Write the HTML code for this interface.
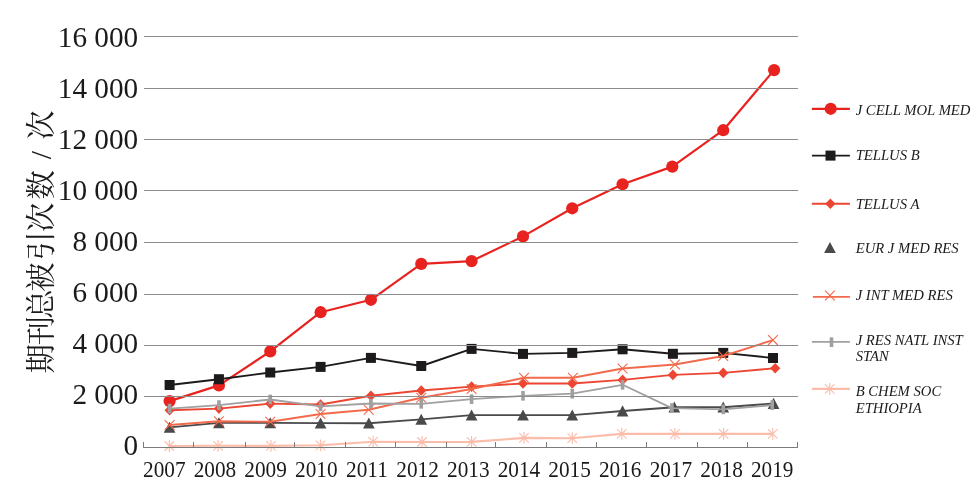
<!DOCTYPE html>
<html lang="zh"><head><meta charset="utf-8"><title>chart</title><style>html,body{margin:0;padding:0;background:#fff}svg{display:block;will-change:transform}</style></head><body>
<svg width="979" height="495" viewBox="0 0 979 495">
<rect width="979" height="495" fill="#fff"/>
<g font-family="'Liberation Serif', serif" font-size="30" fill="#1a1a1a" text-anchor="end">
<text transform="translate(138.2 454.68) scale(0.975 1)" xml:space="preserve">0</text>
<text transform="translate(138.2 403.72) scale(0.975 1)" xml:space="preserve">2 000</text>
<text transform="translate(138.2 352.76) scale(0.975 1)" xml:space="preserve">4 000</text>
<text transform="translate(138.2 301.8) scale(0.975 1)" xml:space="preserve">6 000</text>
<text transform="translate(138.2 250.84) scale(0.975 1)" xml:space="preserve">8 000</text>
<text transform="translate(138.2 199.88) scale(0.975 1)" xml:space="preserve">10 000</text>
<text transform="translate(138.2 148.92) scale(0.975 1)" xml:space="preserve">12 000</text>
<text transform="translate(138.2 97.96) scale(0.975 1)" xml:space="preserve">14 000</text>
<text transform="translate(138.2 47) scale(0.975 1)" xml:space="preserve">16 000</text>
</g>
<g font-family="'Liberation Serif', serif" font-size="23" fill="#1a1a1a" text-anchor="middle">
<text transform="translate(164.3 477.2) scale(0.925 1)">2007</text>
<text transform="translate(214.96 477.2) scale(0.925 1)">2008</text>
<text transform="translate(265.62 477.2) scale(0.925 1)">2009</text>
<text transform="translate(316.28 477.2) scale(0.925 1)">2010</text>
<text transform="translate(366.94 477.2) scale(0.925 1)">2011</text>
<text transform="translate(417.6 477.2) scale(0.925 1)">2012</text>
<text transform="translate(468.26 477.2) scale(0.925 1)">2013</text>
<text transform="translate(518.92 477.2) scale(0.925 1)">2014</text>
<text transform="translate(569.58 477.2) scale(0.925 1)">2015</text>
<text transform="translate(620.24 477.2) scale(0.925 1)">2016</text>
<text transform="translate(670.9 477.2) scale(0.925 1)">2017</text>
<text transform="translate(721.56 477.2) scale(0.925 1)">2018</text>
<text transform="translate(772.22 477.2) scale(0.925 1)">2019</text>
</g>
<g fill="#1a1a1a">
<text transform="translate(40.3 0) rotate(-90)" font-family="'Liberation Serif', 'Noto Serif CJK SC', serif" font-size="29.3" text-anchor="middle" x="-358.8 -330.7 -304.2 -277 -245.9 -217.4 -184.8 -155.2 -125" y="11">期刊总被引次数/次</text>
</g>
<polyline points="169.6,401.1 218.93,385.4 270.26,351.4 320.59,312.2 370.92,299.8 421.25,263.9 471.58,261.1 523.01,236.4 572.24,208.3 622.57,184.3 672.3,166.6 723.23,130.2 774.1,70.1" fill="none" stroke="#e8231f" stroke-width="2.2" stroke-linejoin="round"/>
<circle cx="169.6" cy="401.1" r="6.1" fill="#e8231f"/>
<circle cx="218.93" cy="385.4" r="6.1" fill="#e8231f"/>
<circle cx="270.26" cy="351.4" r="6.1" fill="#e8231f"/>
<circle cx="320.59" cy="312.2" r="6.1" fill="#e8231f"/>
<circle cx="370.92" cy="299.8" r="6.1" fill="#e8231f"/>
<circle cx="421.25" cy="263.9" r="6.1" fill="#e8231f"/>
<circle cx="471.58" cy="261.1" r="6.1" fill="#e8231f"/>
<circle cx="523.01" cy="236.4" r="6.1" fill="#e8231f"/>
<circle cx="572.24" cy="208.3" r="6.1" fill="#e8231f"/>
<circle cx="622.57" cy="184.3" r="6.1" fill="#e8231f"/>
<circle cx="672.3" cy="166.6" r="6.1" fill="#e8231f"/>
<circle cx="723.23" cy="130.2" r="6.1" fill="#e8231f"/>
<circle cx="774.1" cy="70.1" r="6.1" fill="#e8231f"/>
<polyline points="169.6,385 218.93,379.2 270.26,372.5 320.59,366.9 370.92,357.9 421.25,366 471.58,348.9 523.01,353.9 572.24,352.9 622.57,349.3 672.9,353.8 723.23,352.9 773,358" fill="none" stroke="#1c1a1b" stroke-width="1.9" stroke-linejoin="round"/>
<rect x="164.6" y="380" width="10.0" height="10.0" fill="#1c1a1b"/>
<rect x="213.93" y="374.2" width="10.0" height="10.0" fill="#1c1a1b"/>
<rect x="265.26" y="367.5" width="10.0" height="10.0" fill="#1c1a1b"/>
<rect x="315.59" y="361.9" width="10.0" height="10.0" fill="#1c1a1b"/>
<rect x="365.92" y="352.9" width="10.0" height="10.0" fill="#1c1a1b"/>
<rect x="416.25" y="361" width="10.0" height="10.0" fill="#1c1a1b"/>
<rect x="466.58" y="343.9" width="10.0" height="10.0" fill="#1c1a1b"/>
<rect x="518.01" y="348.9" width="10.0" height="10.0" fill="#1c1a1b"/>
<rect x="567.24" y="347.9" width="10.0" height="10.0" fill="#1c1a1b"/>
<rect x="617.57" y="344.3" width="10.0" height="10.0" fill="#1c1a1b"/>
<rect x="667.9" y="348.8" width="10.0" height="10.0" fill="#1c1a1b"/>
<rect x="718.23" y="347.9" width="10.0" height="10.0" fill="#1c1a1b"/>
<rect x="768" y="353" width="10.0" height="10.0" fill="#1c1a1b"/>
<polyline points="169.6,410.3 218.93,408.6 270.26,403.6 320.59,404.5 370.92,395.8 421.25,390.5 471.58,386.6 523.01,383.5 572.24,383.5 622.57,379.9 672.9,374.9 723.23,372.9 775.2,368.2" fill="none" stroke="#ec4632" stroke-width="1.9" stroke-linejoin="round"/>
<path d="M164.5 410.3L169.6 405L174.7 410.3L169.6 415.6Z" fill="#ec4632"/>
<path d="M213.83 408.6L218.93 403.3L224.03 408.6L218.93 413.9Z" fill="#ec4632"/>
<path d="M265.16 403.6L270.26 398.3L275.36 403.6L270.26 408.9Z" fill="#ec4632"/>
<path d="M315.49 404.5L320.59 399.2L325.69 404.5L320.59 409.8Z" fill="#ec4632"/>
<path d="M365.82 395.8L370.92 390.5L376.02 395.8L370.92 401.1Z" fill="#ec4632"/>
<path d="M416.15 390.5L421.25 385.2L426.35 390.5L421.25 395.8Z" fill="#ec4632"/>
<path d="M466.48 386.6L471.58 381.3L476.68 386.6L471.58 391.9Z" fill="#ec4632"/>
<path d="M517.91 383.5L523.01 378.2L528.11 383.5L523.01 388.8Z" fill="#ec4632"/>
<path d="M567.14 383.5L572.24 378.2L577.34 383.5L572.24 388.8Z" fill="#ec4632"/>
<path d="M617.47 379.9L622.57 374.6L627.67 379.9L622.57 385.2Z" fill="#ec4632"/>
<path d="M667.8 374.9L672.9 369.6L678 374.9L672.9 380.2Z" fill="#ec4632"/>
<path d="M718.13 372.9L723.23 367.6L728.33 372.9L723.23 378.2Z" fill="#ec4632"/>
<path d="M770.1 368.2L775.2 362.9L780.3 368.2L775.2 373.5Z" fill="#ec4632"/>
<polyline points="169.6,427.4 218.93,422.9 270.26,422.9 320.59,423.1 368.85,423.2 421.25,419.4 471.58,415.1 523.01,415.1 572.24,415.1 622.57,411 674.3,407.2 723.23,407.2 773.56,403.5" fill="none" stroke="#4a4a4c" stroke-width="1.9" stroke-linejoin="round"/>
<path d="M163.75 432.8L169.6 421.7L175.45 432.8Z" fill="#4a4a4c"/>
<path d="M213.08 428.3L218.93 417.2L224.78 428.3Z" fill="#4a4a4c"/>
<path d="M264.41 428.3L270.26 417.2L276.11 428.3Z" fill="#4a4a4c"/>
<path d="M314.74 428.5L320.59 417.4L326.44 428.5Z" fill="#4a4a4c"/>
<path d="M363 428.6L368.85 417.5L374.7 428.6Z" fill="#4a4a4c"/>
<path d="M415.4 424.8L421.25 413.7L427.1 424.8Z" fill="#4a4a4c"/>
<path d="M465.73 420.5L471.58 409.4L477.43 420.5Z" fill="#4a4a4c"/>
<path d="M517.16 420.5L523.01 409.4L528.86 420.5Z" fill="#4a4a4c"/>
<path d="M566.39 420.5L572.24 409.4L578.09 420.5Z" fill="#4a4a4c"/>
<path d="M616.72 416.4L622.57 405.3L628.42 416.4Z" fill="#4a4a4c"/>
<path d="M668.45 412.6L674.3 401.5L680.15 412.6Z" fill="#4a4a4c"/>
<path d="M717.38 412.6L723.23 401.5L729.08 412.6Z" fill="#4a4a4c"/>
<path d="M767.71 408.9L773.56 397.8L779.41 408.9Z" fill="#4a4a4c"/>
<polyline points="169.6,425 218.93,421.2 270.26,421.8 320.59,414 368.7,409.8 421.25,397.8 471.58,389 524,377.8 572.9,377.8 622.57,368.5 674.9,364.5 723.23,356 772.9,340.1" fill="none" stroke="#f2694b" stroke-width="1.9" stroke-linejoin="round"/>
<path d="M164.7 420.1L174.5 429.9M164.7 429.9L174.5 420.1" stroke="#f2694b" stroke-width="1.1" fill="none"/>
<path d="M214.03 416.3L223.83 426.1M214.03 426.1L223.83 416.3" stroke="#f2694b" stroke-width="1.1" fill="none"/>
<path d="M265.36 416.9L275.16 426.7M265.36 426.7L275.16 416.9" stroke="#f2694b" stroke-width="1.1" fill="none"/>
<path d="M315.69 409.1L325.49 418.9M315.69 418.9L325.49 409.1" stroke="#f2694b" stroke-width="1.1" fill="none"/>
<path d="M363.8 404.9L373.6 414.7M363.8 414.7L373.6 404.9" stroke="#f2694b" stroke-width="1.1" fill="none"/>
<path d="M416.35 392.9L426.15 402.7M416.35 402.7L426.15 392.9" stroke="#f2694b" stroke-width="1.1" fill="none"/>
<path d="M466.68 384.1L476.48 393.9M466.68 393.9L476.48 384.1" stroke="#f2694b" stroke-width="1.1" fill="none"/>
<path d="M519.1 372.9L528.9 382.7M519.1 382.7L528.9 372.9" stroke="#f2694b" stroke-width="1.1" fill="none"/>
<path d="M568 372.9L577.8 382.7M568 382.7L577.8 372.9" stroke="#f2694b" stroke-width="1.1" fill="none"/>
<path d="M617.67 363.6L627.47 373.4M617.67 373.4L627.47 363.6" stroke="#f2694b" stroke-width="1.1" fill="none"/>
<path d="M670 359.6L679.8 369.4M670 369.4L679.8 359.6" stroke="#f2694b" stroke-width="1.1" fill="none"/>
<path d="M718.33 351.1L728.13 360.9M718.33 360.9L728.13 351.1" stroke="#f2694b" stroke-width="1.1" fill="none"/>
<path d="M768 335.2L777.8 345M768 345L777.8 335.2" stroke="#f2694b" stroke-width="1.1" fill="none"/>
<polyline points="169.6,408.6 218.93,405.1 270.26,399.5 320.59,406.3 370.92,403.5 421.25,403.8 471.58,399.2 523.01,395.8 572.24,393.7 622.57,384.8 671.9,408.1 723.23,409.3 772.2,405.1" fill="none" stroke="#a0a0a1" stroke-width="1.8" stroke-linejoin="round"/>
<rect x="167.8" y="403.75" width="3.6" height="9.7" fill="#a0a0a1"/>
<rect x="217.13" y="400.25" width="3.6" height="9.7" fill="#a0a0a1"/>
<rect x="268.46" y="394.65" width="3.6" height="9.7" fill="#a0a0a1"/>
<rect x="318.79" y="401.45" width="3.6" height="9.7" fill="#a0a0a1"/>
<rect x="369.12" y="398.65" width="3.6" height="9.7" fill="#a0a0a1"/>
<rect x="419.45" y="398.95" width="3.6" height="9.7" fill="#a0a0a1"/>
<rect x="469.78" y="394.35" width="3.6" height="9.7" fill="#a0a0a1"/>
<rect x="521.21" y="390.95" width="3.6" height="9.7" fill="#a0a0a1"/>
<rect x="570.44" y="388.85" width="3.6" height="9.7" fill="#a0a0a1"/>
<rect x="620.77" y="379.95" width="3.6" height="9.7" fill="#a0a0a1"/>
<rect x="670.1" y="403.25" width="3.6" height="9.7" fill="#a0a0a1"/>
<rect x="721.43" y="404.45" width="3.6" height="9.7" fill="#a0a0a1"/>
<rect x="770.4" y="400.25" width="3.6" height="9.7" fill="#a0a0a1"/>
<polyline points="169.3,446 218.1,445.8 271,445.9 320.59,445.3 373.2,441.7 422,442 471.58,441.9 524,437.9 572.24,438.2 621.8,433.9 674.9,433.9 723.6,433.9 772.8,433.9" fill="none" stroke="#fcbcaa" stroke-width="2.1" stroke-linejoin="round"/>
<path d="M169.3 440.1L169.3 451.9M164.55 441.25L174.05 450.75M164.55 450.75L174.05 441.25" stroke="#fcbcaa" stroke-width="1.1" fill="none"/>
<path d="M218.1 439.9L218.1 451.7M213.35 441.05L222.85 450.55M213.35 450.55L222.85 441.05" stroke="#fcbcaa" stroke-width="1.1" fill="none"/>
<path d="M271 440L271 451.8M266.25 441.15L275.75 450.65M266.25 450.65L275.75 441.15" stroke="#fcbcaa" stroke-width="1.1" fill="none"/>
<path d="M320.59 439.4L320.59 451.2M315.84 440.55L325.34 450.05M315.84 450.05L325.34 440.55" stroke="#fcbcaa" stroke-width="1.1" fill="none"/>
<path d="M373.2 435.8L373.2 447.6M368.45 436.95L377.95 446.45M368.45 446.45L377.95 436.95" stroke="#fcbcaa" stroke-width="1.1" fill="none"/>
<path d="M422 436.1L422 447.9M417.25 437.25L426.75 446.75M417.25 446.75L426.75 437.25" stroke="#fcbcaa" stroke-width="1.1" fill="none"/>
<path d="M471.58 436L471.58 447.8M466.83 437.15L476.33 446.65M466.83 446.65L476.33 437.15" stroke="#fcbcaa" stroke-width="1.1" fill="none"/>
<path d="M524 432L524 443.8M519.25 433.15L528.75 442.65M519.25 442.65L528.75 433.15" stroke="#fcbcaa" stroke-width="1.1" fill="none"/>
<path d="M572.24 432.3L572.24 444.1M567.49 433.45L576.99 442.95M567.49 442.95L576.99 433.45" stroke="#fcbcaa" stroke-width="1.1" fill="none"/>
<path d="M621.8 428L621.8 439.8M617.05 429.15L626.55 438.65M617.05 438.65L626.55 429.15" stroke="#fcbcaa" stroke-width="1.1" fill="none"/>
<path d="M674.9 428L674.9 439.8M670.15 429.15L679.65 438.65M670.15 438.65L679.65 429.15" stroke="#fcbcaa" stroke-width="1.1" fill="none"/>
<path d="M723.6 428L723.6 439.8M718.85 429.15L728.35 438.65M718.85 438.65L728.35 429.15" stroke="#fcbcaa" stroke-width="1.1" fill="none"/>
<path d="M772.8 428L772.8 439.8M768.05 429.15L777.55 438.65M768.05 438.65L777.55 429.15" stroke="#fcbcaa" stroke-width="1.1" fill="none"/>
<g stroke="#8c8c8c" stroke-width="1" fill="none">
<path d="M144 396.5H798"/>
<path d="M144 345.5H798"/>
<path d="M144 294.5H798"/>
<path d="M144 242.5H798"/>
<path d="M144 190.5H798"/>
<path d="M144 139.5H798"/>
<path d="M144 88.5H798"/>
<path d="M144 36.5H798"/>
</g>
<g stroke="#7c7c7c" stroke-width="1" fill="none">
<path d="M143 447.5H798"/>
<path d="M143.5 442V448"/>
<path d="M193.5 442V448"/>
<path d="M245.5 442V448"/>
<path d="M294.5 442V448"/>
<path d="M345.5 442V448"/>
<path d="M395.5 442V448"/>
<path d="M446.5 442V448"/>
<path d="M495.5 442V448"/>
<path d="M546.5 442V448"/>
<path d="M596.5 442V448"/>
<path d="M646.5 442V448"/>
<path d="M697.5 442V448"/>
<path d="M747.5 442V448"/>
<path d="M797.5 442V448"/>
</g>
<g font-family="'Liberation Serif', serif" font-style="italic" font-size="15.2" fill="#1a1a1a">
<path d="M811.9 108.8H849.9" stroke="#e8231f" stroke-width="2.2" fill="none"/>
<circle cx="830.7" cy="108.8" r="6.1" fill="#e8231f"/>
<text transform="translate(855.7 114.7) scale(0.965 1)">J CELL MOL MED</text>
<path d="M811.9 155.6H849.9" stroke="#1c1a1b" stroke-width="1.9" fill="none"/>
<rect x="825.5" y="150.6" width="10.0" height="10.0" fill="#1c1a1b"/>
<text transform="translate(855.7 159.8) scale(0.965 1)">TELLUS B</text>
<path d="M811.9 203.8H849.9" stroke="#ec4632" stroke-width="1.9" fill="none"/>
<path d="M825.3 203.8L830.4 198.5L835.5 203.8L830.4 209.1Z" fill="#ec4632"/>
<text transform="translate(855.7 208.7) scale(0.965 1)">TELLUS A</text>
<path d="M824.1 253.1L829.95 242L835.8 253.1Z" fill="#4a4a4c"/>
<text transform="translate(855.7 252.6) scale(0.965 1)">EUR J MED RES</text>
<path d="M812.9 296.9H849.9" stroke="#f2694b" stroke-width="1.9" fill="none"/>
<path d="M825 290.6L834.8 300.4M825 300.4L834.8 290.6" stroke="#f2694b" stroke-width="1.1" fill="none"/>
<text transform="translate(855.7 299.6) scale(0.965 1)">J INT MED RES</text>
<path d="M811.9 341.9H849.9" stroke="#a0a0a1" stroke-width="1.8" fill="none"/>
<rect x="829.7" y="337.35" width="3.6" height="9.7" fill="#a0a0a1"/>
<text transform="translate(855.7 344.6) scale(0.965 1)">J RES NATL INST</text>
<text transform="translate(855.7 361.4) scale(0.965 1)">STAN</text>
<path d="M811.9 388.9H849.9" stroke="#fcbcaa" stroke-width="2.1" fill="none"/>
<path d="M829.7 383L829.7 394.8M824.95 384.15L834.45 393.65M824.95 393.65L834.45 384.15" stroke="#fcbcaa" stroke-width="1.1" fill="none"/>
<text transform="translate(855.7 395.8) scale(0.965 1)">B CHEM SOC</text>
<text transform="translate(855.7 412.6) scale(0.965 1)">ETHIOPIA</text>
</g>
</svg>
</body></html>
